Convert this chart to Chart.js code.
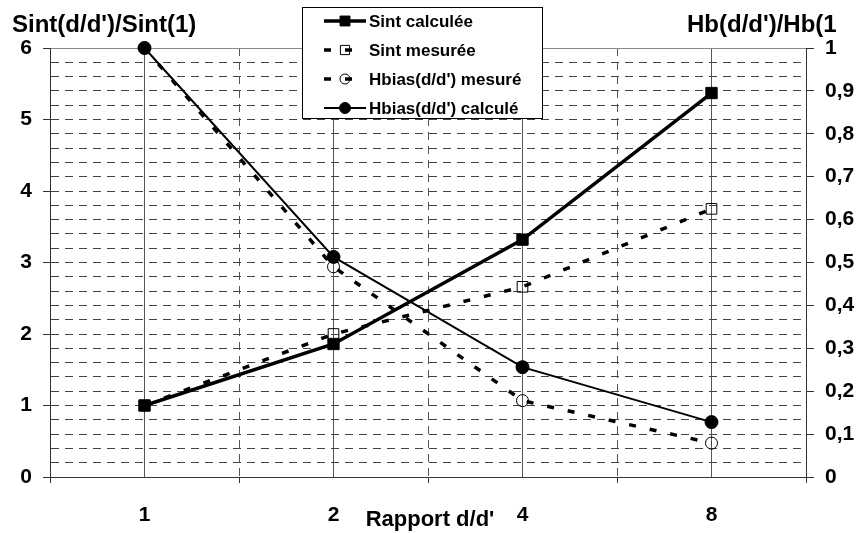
<!DOCTYPE html>
<html lang="fr">
<head>
<meta charset="utf-8">
<title>Rapport d/d'</title>
<script src="https://cdn.jsdelivr.net/npm/chart.js@4.4.1/dist/chart.umd.min.js"></script>
<style>
    html, body { margin: 0; padding: 0; background: #fff; }
    #wrap { width: 860px; height: 533px; }
</style>
</head>
<body>
<div id="wrap"><canvas id="rapportChart" width="860" height="533"></canvas></div>
<script>
// Rapport d/d' en abscisse (catégories régulièrement espacées)
const rapports = ['1', '2', '4', '8'];

// Sint(d/d')/Sint(1) - axe de gauche
const sintCalculee = [1, 1.86, 3.32, 5.37];
const sintMesuree = [1, 2.0, 2.66, 3.75];

// Hb(d/d')/Hb(1) - axe de droite
const hbiasMesure = [1, 0.49, 0.178, 0.079];
const hbiasCalcule = [1, 0.513, 0.256, 0.128];

// Libellés des graduations
const sintLabels = ['0', '1', '2', '3', '4', '5', '6'];
const hbLabels = ['0', '0,1', '0,2', '0,3', '0,4', '0,5', '0,6', '0,7', '0,8', '0,9', '1'];

const FONT = "'Liberation Sans', Arial, sans-serif";
const tickFont = { family: FONT, size: 21, weight: 'bold' };

const isWhole = v => Math.abs(v - Math.round(v)) < 1e-6;

/**
 * Titres des axes et légende encadrée
 */
const textesPlugin = {
    id: 'textes',
    afterDraw(chart) {
        const ctx = chart.ctx;
        ctx.save();
        ctx.fillStyle = '#000';
        ctx.font = 'bold 24px ' + FONT;
        ctx.textBaseline = 'alphabetic';
        ctx.fillText("Sint(d/d')/Sint(1)", 12, 32);
        ctx.fillText("Hb(d/d')/Hb(1", 687, 32);

        ctx.font = 'bold 22px ' + FONT;
        ctx.textAlign = 'center';
        ctx.fillText("Rapport d/d'", 430, 526);

        // légende
        ctx.textAlign = 'left';
        ctx.fillStyle = '#fff';
        ctx.fillRect(302, 7, 240, 111);
        ctx.strokeStyle = '#000';
        ctx.lineWidth = 1;
        ctx.strokeRect(302.5, 7.5, 240, 111);

        chart.data.datasets.forEach((ds, i) => {
            const y = 21 + i * 29;
            ctx.save();
            ctx.strokeStyle = ds.borderColor;
            ctx.lineWidth = ds.borderWidth;
            ctx.setLineDash(ds.borderDash || []);
            ctx.beginPath();
            ctx.moveTo(324, y);
            ctx.lineTo(366, y);
            ctx.stroke();
            ctx.restore();

            ctx.fillStyle = ds.pointBackgroundColor;
            ctx.strokeStyle = ds.pointBorderColor;
            ctx.lineWidth = ds.pointBorderWidth;
            Chart.helpers.drawPoint(ctx, {
                pointStyle: ds.pointStyle,
                radius: ds.pointRadius - 1,
                rotation: 0,
                borderWidth: ds.pointBorderWidth
            }, 345, y);

            ctx.fillStyle = '#000';
            ctx.font = 'bold 17px ' + FONT;
            ctx.textBaseline = 'middle';
            ctx.fillText(ds.label, 369, y + 1);
        });
        ctx.restore();
    }
};

new Chart(document.getElementById('rapportChart'), {
    type: 'line',
    data: {
        labels: rapports,
        datasets: [{
            label: 'Sint calculée',
            data: sintCalculee,
            yAxisID: 'y',
            borderColor: '#000',
            borderWidth: 3.5,
            pointStyle: 'rect',
            pointRadius: 8,
            pointBackgroundColor: '#000',
            pointBorderColor: '#000',
            pointBorderWidth: 1,
            clip: false
        }, {
            label: 'Sint mesurée',
            data: sintMesuree,
            yAxisID: 'y',
            borderColor: '#000',
            borderWidth: 3.5,
            borderDash: [7, 14],
            pointStyle: 'rect',
            pointRadius: 7.5,
            pointBackgroundColor: 'rgba(0,0,0,0)',
            pointBorderColor: '#000',
            pointBorderWidth: 1,
            clip: false
        }, {
            label: "Hbias(d/d') mesuré",
            data: hbiasMesure,
            yAxisID: 'y2',
            borderColor: '#000',
            borderWidth: 3.5,
            borderDash: [7, 14],
            pointStyle: 'circle',
            pointRadius: 6,
            pointBackgroundColor: 'rgba(0,0,0,0)',
            pointBorderColor: '#000',
            pointBorderWidth: 1,
            clip: false
        }, {
            label: "Hbias(d/d') calculé",
            data: hbiasCalcule,
            yAxisID: 'y2',
            borderColor: '#000',
            borderWidth: 2,
            pointStyle: 'circle',
            pointRadius: 6.5,
            pointBackgroundColor: '#000',
            pointBorderColor: '#000',
            pointBorderWidth: 1,
            clip: false
        }]
    },
    options: {
        responsive: false,
        animation: false,
        tension: 0,
        layout: { padding: { top: 48, left: 0, right: 0, bottom: 0 } },
        plugins: {
            legend: { display: false },
            tooltip: { enabled: false }
        },
        scales: {
            x: {
                type: 'category',
                position: 'bottom',
                offset: true,
                grid: {
                    offset: true,
                    color: c => (c.type === 'tick' && c.index > 0) ? '#555' : 'rgba(0,0,0,0)',
                    lineWidth: 1,
                    tickLength: 6,
                    tickColor: '#333'
                },
                border: { color: '#333', width: 1, dash: [8, 6] },
                ticks: { font: tickFont, color: '#000', padding: 20, maxRotation: 0, autoSkip: false },
                afterFit: s => { s.height = 56; }
            },
            x2: {
                type: 'category',
                position: 'top',
                offset: true,
                grid: { offset: false, color: '#555', lineWidth: 1, drawTicks: false },
                border: { display: false },
                ticks: { display: false },
                afterFit: s => { s.height = 0; }
            },
            y: {
                position: 'left',
                min: 0,
                max: 6,
                grid: {
                    color: c => {
                        if (!c.tick || c.tick.value < 0.01) return 'rgba(0,0,0,0)';
                        return c.tick.value > 5.99 ? '#888' : '#444';
                    },
                    lineWidth: 1,
                    tickLength: 7,
                    tickColor: c => (c.tick && isWhole(c.tick.value)) ? '#333' : 'rgba(0,0,0,0)'
                },
                border: {
                    color: '#333',
                    width: 1,
                    dash: c => (c.tick && c.tick.value > 5.99) ? [] : [8, 6]
                },
                ticks: {
                    stepSize: 0.2,
                    autoSkip: false,
                    font: tickFont,
                    color: '#000',
                    padding: 11,
                    callback: v => isWhole(v) ? sintLabels[Math.round(v)] : ''
                },
                afterFit: s => { s.width = 50; }
            },
            y2: {
                position: 'right',
                min: 0,
                max: 1,
                grid: { drawOnChartArea: false, tickLength: 8, tickColor: '#333' },
                border: { color: '#333', width: 1 },
                ticks: {
                    stepSize: 0.1,
                    autoSkip: false,
                    font: tickFont,
                    color: '#000',
                    padding: 11,
                    callback: v => hbLabels[Math.round(v * 10)]
                },
                afterFit: s => { s.width = 54; }
            }
        }
    },
    plugins: [textesPlugin]
});
</script>
</body>
</html>
